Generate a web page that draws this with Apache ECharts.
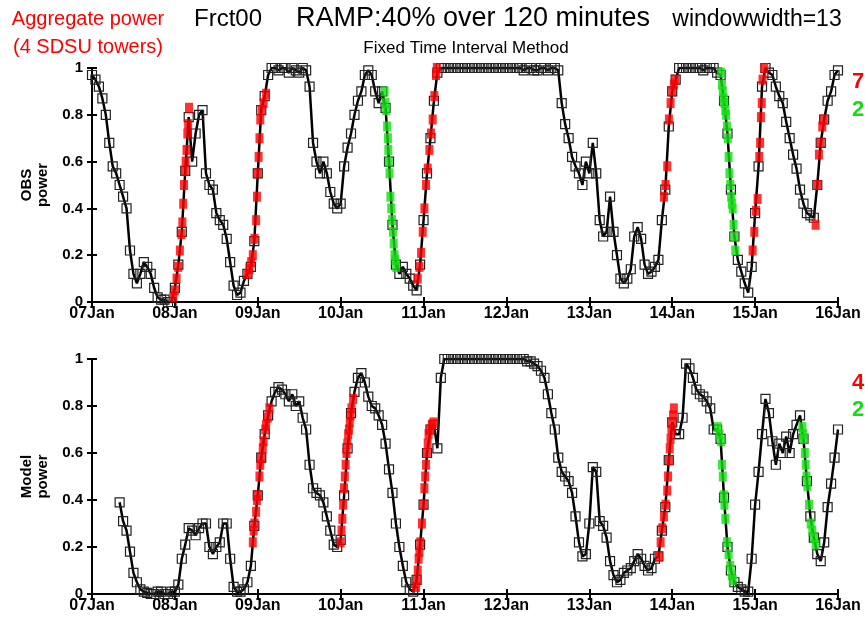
<!DOCTYPE html>
<html><head><meta charset="utf-8">
<script src="https://cdn.jsdelivr.net/npm/echarts@6/dist/echarts.min.js"></script>
<style>html,body{margin:0;padding:0;background:#fff}#c{width:865px;height:619px}</style>
</head><body><div id="c"></div>
<script>
// ---- data ----
const dayLabels = ['07Jan','08Jan','09Jan','10Jan','11Jan','12Jan','13Jan','14Jan','15Jan','16Jan'];
const stepHours = 1; // one sample per hour from 07Jan 00:00
// Observed aggregate power (hourly)
const obsPower = [
0.97,0.95,0.92,0.87,0.8,0.68,0.58,0.55,0.5,0.45,
0.4,0.22,0.12,0.08,0.12,0.17,0.15,0.12,0.06,0.02,
0.01,0.01,0.0,0.0,0.06,0.16,0.3,0.56,0.79,0.6,
0.72,0.8,0.82,0.55,0.5,0.48,0.38,0.35,0.33,0.27,
0.17,0.07,0.03,0.04,0.09,0.12,0.15,0.26,0.55,0.82,
0.88,0.97,1.0,1.0,0.99,1.0,1.0,0.98,1.0,0.99,
0.98,1.0,0.99,0.92,0.68,0.6,0.55,0.6,0.55,0.47,
0.42,0.4,0.42,0.58,0.66,0.72,0.8,0.86,0.9,0.97,
0.99,0.97,0.9,0.85,0.9,0.83,0.6,0.33,0.16,0.12,
0.15,0.12,0.1,0.07,0.05,0.16,0.35,0.55,0.7,0.86,
0.98,1,1,1,1,1,1,1,1,1,
1,1,1,1,1,1,1,1,1,1,
1,1,1,1,1,0.99,1,1,0.99,0.99,
1,1,0.99,1,1,0.99,0.85,0.76,0.7,0.62,
0.58,0.55,0.5,0.6,0.55,0.68,0.55,0.35,0.28,0.3,
0.45,0.3,0.2,0.1,0.08,0.1,0.14,0.28,0.32,0.27,
0.16,0.12,0.13,0.15,0.18,0.35,0.48,0.75,0.9,0.95,
1,1,1,1,1,1,1,0.99,1,1,
1,0.98,0.97,0.86,0.72,0.48,0.28,0.18,0.13,0.08,
0.04,0.15,0.38,0.58,0.92,1.0,0.98,0.97,0.92,0.88,
0.85,0.77,0.7,0.63,0.57,0.48,0.42,0.38,0.37,0.36,
0.5,0.68,0.78,0.86,0.9,0.97,0.99
];
// Model power (hourly, starts later)
const modelPower = [
null,null,null,null,null,null,null,null,0.39,0.31,
0.27,0.18,0.09,0.05,0.02,0.01,0.005,0,0,0.01,
0.01,0,0,0.01,0.01,0.04,0.15,0.21,0.28,0.27,
0.25,0.28,0.3,0.3,0.2,0.17,0.2,0.22,0.3,0.3,
0.15,0.03,0.01,0.01,0.02,0.05,0.12,0.29,0.42,0.58,
0.68,0.76,0.82,0.86,0.88,0.87,0.85,0.82,0.85,0.8,
0.82,0.75,0.7,0.55,0.45,0.43,0.42,0.39,0.33,0.27,
0.21,0.2,0.23,0.42,0.62,0.77,0.86,0.92,0.94,0.9,
0.84,0.8,0.79,0.76,0.72,0.64,0.53,0.43,0.3,0.2,
0.12,0.05,0.02,0.01,0.06,0.21,0.38,0.6,0.7,0.72,
0.62,0.92,1,1,1,1,1,1,1,1,
1,1,1,1,1,1,1,1,1,1,
1,1,1,1,1,1,0.99,0.99,0.98,0.97,
0.95,0.92,0.85,0.77,0.7,0.58,0.52,0.5,0.48,0.43,
0.33,0.22,0.16,0.17,0.3,0.54,0.52,0.31,0.29,0.24,
0.14,0.08,0.05,0.06,0.09,0.1,0.11,0.14,0.17,0.15,
0.12,0.1,0.11,0.15,0.16,0.27,0.37,0.57,0.73,0.68,
0.68,0.75,0.98,0.96,0.92,0.87,0.85,0.84,0.82,0.79,
0.7,0.7,0.66,0.41,0.2,0.1,0.05,0.03,0.02,0.01,
0.01,0.15,0.38,0.52,0.68,0.83,0.77,0.65,0.55,0.64,
0.6,0.67,0.6,0.68,0.72,0.76,0.66,0.48,0.33,0.24,
0.17,0.14,0.22,0.37,0.47,0.58,0.7
];
// detected ramps: [day offset, power]
const obsRampUp = [
[0.98,0.02],[1.0,0.05],[1.02,0.1],[1.04,0.15],[1.06,0.22],[1.08,0.29],[1.09,0.34],[1.1,0.42],[1.11,0.5],[1.12,0.56],[1.13,0.6],[1.14,0.65],[1.15,0.72],[1.16,0.76],[1.17,0.83],
[1.88,0.12],[1.9,0.14],[1.92,0.17],[1.94,0.2],[1.96,0.27],[1.98,0.35],[1.99,0.45],[2.0,0.55],[2.01,0.62],[2.02,0.7],[2.03,0.78],[2.05,0.82],[2.07,0.85],[2.1,0.89],
[3.93,0.1],[3.95,0.15],[3.97,0.21],[3.99,0.3],[4.01,0.4],[4.03,0.5],[4.05,0.57],[4.07,0.65],[4.09,0.72],[4.11,0.78],[4.13,0.88],[4.15,0.97],[4.16,1.0],
[6.9,0.45],[6.92,0.5],[6.94,0.58],[6.96,0.78],[6.98,0.85],[7.0,0.9],[7.02,0.93],[7.04,0.95],
[7.97,0.22],[7.99,0.3],[8.01,0.39],[8.03,0.44],[8.05,0.62],[8.06,0.68],[8.07,0.79],[8.08,0.85],[8.09,0.95],[8.11,1.0],
[8.73,0.33],[8.75,0.5],[8.77,0.63],[8.79,0.68],[8.81,0.75],[8.83,0.78]
];
const obsRampDown = [
[3.53,0.9],[3.54,0.85],[3.55,0.82],[3.56,0.75],[3.57,0.7],[3.575,0.65],[3.58,0.6],[3.59,0.55],[3.6,0.45],[3.61,0.4],[3.62,0.35],[3.63,0.3],[3.64,0.25],[3.65,0.2],[3.66,0.18],[3.67,0.15],
[7.59,0.98],[7.6,0.93],[7.61,0.9],[7.62,0.87],[7.63,0.85],[7.64,0.82],[7.65,0.8],[7.66,0.75],[7.67,0.7],[7.68,0.62],[7.69,0.55],[7.7,0.5],[7.71,0.45],[7.72,0.42],[7.73,0.4],[7.74,0.33],[7.75,0.28],[7.76,0.22]
];
const modelRampUp = [
[1.94,0.22],[1.95,0.27],[1.96,0.3],[1.98,0.35],[1.99,0.4],[2.0,0.42],[2.02,0.5],[2.03,0.55],[2.04,0.58],[2.06,0.62],[2.07,0.65],[2.09,0.7],[2.1,0.72],[2.12,0.75],[2.14,0.79],
[3.0,0.22],[3.01,0.27],[3.02,0.32],[3.03,0.38],[3.04,0.45],[3.05,0.5],[3.06,0.55],[3.07,0.6],[3.08,0.64],[3.09,0.68],[3.1,0.7],[3.11,0.73],[3.12,0.76],[3.13,0.79],[3.15,0.83],
[3.91,0.03],[3.92,0.06],[3.93,0.1],[3.94,0.15],[3.95,0.18],[3.96,0.22],[3.98,0.3],[4.0,0.38],[4.01,0.45],[4.02,0.5],[4.03,0.55],[4.04,0.6],[4.05,0.64],[4.06,0.68],[4.08,0.7],[4.1,0.72],[4.12,0.73],
[6.84,0.16],[6.86,0.22],[6.88,0.28],[6.9,0.33],[6.92,0.38],[6.94,0.44],[6.95,0.5],[6.96,0.57],[6.97,0.62],[6.98,0.66],[6.99,0.7],[7.0,0.73],[7.01,0.76],[7.02,0.79]
];
const modelRampDown = [
[7.55,0.71],[7.57,0.68],[7.59,0.65],[7.6,0.55],[7.61,0.5],[7.62,0.42],[7.63,0.38],[7.64,0.32],[7.66,0.22],[7.68,0.17],[7.7,0.12],[7.72,0.08],[7.73,0.06],
[8.57,0.71],[8.58,0.68],[8.59,0.66],[8.6,0.6],[8.61,0.55],[8.62,0.5],[8.63,0.46],[8.65,0.38],[8.67,0.3],[8.69,0.27],[8.71,0.24],[8.73,0.21]
];
const rampCounts = {obsUp:'7', obsDown:'2', modelUp:'4', modelDown:'2'};
const titleLeft = ['Aggregate power','(4 SDSU towers)'];
const titleMain = ['Frct00','RAMP:40% over 120 minutes','windowwidth=13'];
const subTitle = 'Fixed Time Interval Method';
const yNames = ['OBS\npower','Model\npower'];

// ---- chart ----
const FONT = '"Liberation Sans", Arial, sans-serif';
const toXY = arr => arr.map((v,i)=>[i*stepHours/24, v]);
const chart = echarts.init(document.getElementById('c'), null, {renderer:'canvas'});
const grids = [
  {left:92, top:68, width:746, height:234},
  {left:92, top:359, width:746, height:235}
];
const axLine = {show:true, lineStyle:{color:'#000', width:2}};
const axTick = {show:true, inside:true, length:5, lineStyle:{color:'#000', width:2}};
const xAxes = [], yAxes = [];
grids.forEach((g,i)=>{
  xAxes.push({gridIndex:i, type:'value', min:0, max:9, interval:1, position:'bottom',
    axisLine:axLine, axisTick:axTick, splitLine:{show:false},
    axisLabel:{margin:4, color:'#000', fontFamily:FONT, fontWeight:'bold', fontSize:16,
      formatter:v=>dayLabels[Math.round(v)]}});
  xAxes.push({gridIndex:i, type:'value', min:0, max:9, interval:1, position:'top',
    axisLine:axLine, axisTick:axTick, splitLine:{show:false}, axisLabel:{show:false}});
  yAxes.push({gridIndex:i, type:'value', min:0, max:1, interval:0.2, position:'left',
    axisLine:axLine, axisTick:axTick, splitLine:{show:false},
    axisLabel:{margin:9, color:'#000', fontFamily:FONT, fontWeight:'bold', fontSize:15},
    name:yNames[i], nameLocation:'middle', nameRotate:90, nameGap:39,
    nameTextStyle:{color:'#000', fontFamily:FONT, fontWeight:'bold', fontSize:15, lineHeight:16}});
  yAxes.push({gridIndex:i, type:'value', min:0, max:1, interval:0.2, position:'right',
    axisLine:axLine, axisTick:axTick, splitLine:{show:false}, axisLabel:{show:false}});
});
function lineSeries(data, gi){
  return {type:'line', xAxisIndex:gi*2, yAxisIndex:gi*2, data:toXY(data),
    symbol:'rect', symbolSize:9, showAllSymbol:true, connectNulls:false,
    lineStyle:{color:'#000', width:2.5},
    itemStyle:{color:'rgba(255,255,255,0)', borderColor:'#222', borderWidth:1.2},
    animation:false, z:2};
}
function rampSeries(data, gi, color){
  return {type:'scatter', xAxisIndex:gi*2, yAxisIndex:gi*2, data:data,
    symbol:'rect', symbolSize:[8,10], itemStyle:{color:color}, animation:false, z:3};
}
const txt = (text, x, y, size, color, extra) => ({type:'text', x:x, y:y,
  style:{text:text, fill:color, font:(extra&&extra.weight||'normal')+' '+size+'px '+FONT,
  textAlign:(extra&&extra.align)||'left', textVerticalAlign:'middle'}});
chart.setOption({
  animation:false,
  backgroundColor:'#fff',
  grid:grids,
  xAxis:xAxes, yAxis:yAxes,
  series:[
    lineSeries(obsPower,0), rampSeries(obsRampUp,0,'#ff0000'), rampSeries(obsRampDown,0,'#11e011'),
    lineSeries(modelPower,1), rampSeries(modelRampUp,1,'#ff0000'), rampSeries(modelRampDown,1,'#11e011')
  ],
  graphic:[
    txt(titleLeft[0], 88, 19, 20, '#ff0000', {align:'center'}),
    txt(titleLeft[1], 88, 47, 20, '#ff0000', {align:'center'}),
    txt(titleMain[0], 228, 19, 24, '#000', {align:'center'}),
    txt(titleMain[1], 473, 19, 27, '#000', {align:'center'}),
    txt(titleMain[2], 757, 20, 23, '#000', {align:'center'}),
    txt(subTitle, 466, 48, 17, '#000', {align:'center'}),
    txt(rampCounts.obsUp, 852, 82, 22, '#ff0000', {weight:'bold'}),
    txt(rampCounts.obsDown, 852, 110, 22, '#11dd11', {weight:'bold'}),
    txt(rampCounts.modelUp, 852, 383, 22, '#ff0000', {weight:'bold'}),
    txt(rampCounts.modelDown, 852, 410, 22, '#11dd11', {weight:'bold'})
  ]
});
</script></body></html>
